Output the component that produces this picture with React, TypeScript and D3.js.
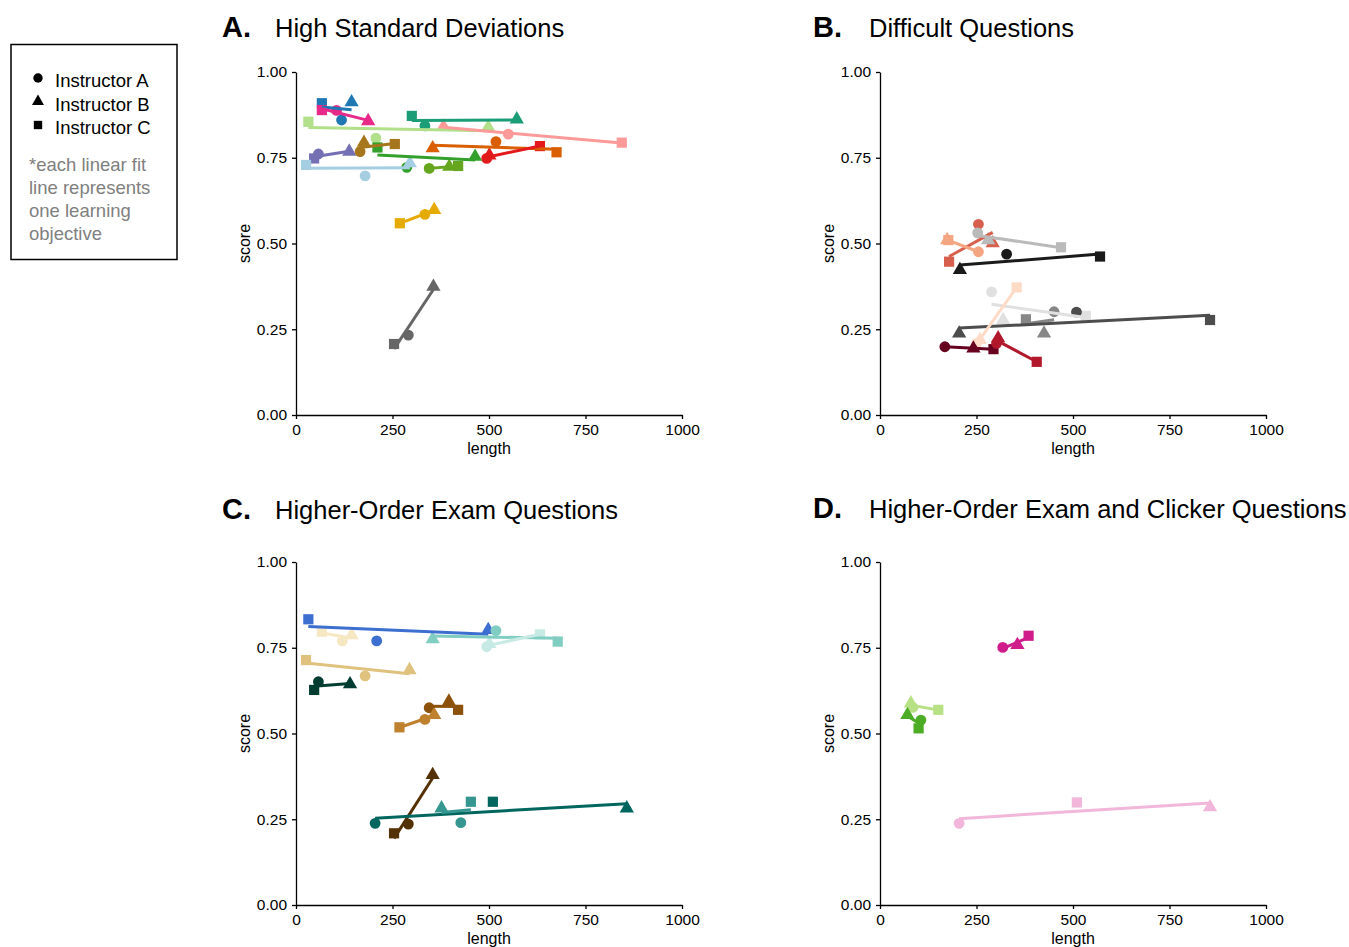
import * as d3 from "d3";
import { useEffect, useRef } from "react";

type Inst = "A" | "B" | "C";
type Pt = [Inst, number, number]; // instructor, length, score

const lengthTicks = [0, 250, 500, 750, 1000];
const scoreTicks = [0, 0.25, 0.5, 0.75, 1];
const instructors: Inst[] = ["A", "B", "C"];
const note = ["*each linear fit", "line represents", "one learning", "objective"];

// A. High Standard Deviations
const groupsA: Pt[][] = [
  [["C", 67, 0.909], ["A", 118, 0.86], ["B", 144, 0.912]],
  [["C", 67, 0.889], ["A", 105, 0.888], ["B", 187, 0.857]],
  [["C", 300, 0.872], ["A", 334, 0.843], ["B", 572, 0.862]],
  [["C", 32, 0.855], ["A", 207, 0.807], ["B", 498, 0.839]],
  [["B", 382, 0.841], ["A", 550, 0.819], ["C", 844, 0.794]],
  [["B", 354, 0.778], ["A", 518, 0.797], ["C", 675, 0.766]],
  [["A", 494, 0.748], ["B", 501, 0.757], ["C", 632, 0.784]],
  [["C", 47, 0.748], ["A", 58, 0.761], ["B", 138, 0.768]],
  [["B", 176, 0.794], ["A", 166, 0.768], ["C", 256, 0.79]],
  [["C", 211, 0.78], ["B", 464, 0.753], ["A", 287, 0.722]],
  [["C", 26, 0.729], ["A", 179, 0.697], ["B", 295, 0.734]],
  [["A", 345, 0.719], ["B", 397, 0.724], ["C", 420, 0.726]],
  [["C", 269, 0.559], ["A", 334, 0.585], ["B", 358, 0.598]],
  [["C", 254, 0.207], ["A", 291, 0.233], ["B", 356, 0.374]],
];
const coloursA = [
  "#1f78b4", "#e7298a", "#1b9e77", "#b2df8a", "#fb9a99", "#d95f02", "#e31a1c",
  "#7570b3", "#a6761d", "#33a02c", "#a6cee3", "#66a61e", "#e6ab02", "#666666",
];

// B. Difficult Questions
const groupsB: Pt[][] = [
  [["A", 255, 0.556], ["B", 292, 0.501], ["C", 179, 0.447]],
  [["B", 174, 0.51], ["A", 255, 0.476], ["C", 177, 0.51]],
  [["A", 253, 0.531], ["B", 280, 0.51], ["C", 469, 0.489]],
  [["B", 207, 0.423], ["A", 328, 0.469], ["C", 570, 0.462]],
  [["A", 289, 0.359], ["B", 319, 0.277], ["C", 533, 0.289]],
  [["C", 378, 0.279], ["A", 451, 0.301], ["B", 425, 0.238]],
  [["B", 205, 0.238], ["A", 509, 0.3], ["C", 855, 0.277]],
  [["C", 354, 0.372], ["A", 250, 0.209], ["B", 259, 0.219]],
  [["A", 168, 0.199], ["B", 242, 0.194], ["C", 294, 0.192]],
  [["B", 306, 0.224], ["A", 302, 0.209], ["C", 406, 0.155]],
];
const coloursB = [
  "#d6604d", "#f4a582", "#bababa", "#1a1a1a", "#e0e0e0",
  "#878787", "#4d4d4d", "#fddbc7", "#67001f", "#b2182b",
];

// C. Higher-Order Exam Questions
const groupsC: Pt[][] = [
  [["C", 32, 0.833], ["B", 498, 0.802], ["A", 209, 0.77]],
  [["B", 354, 0.775], ["A", 518, 0.8], ["C", 678, 0.768]],
  [["A", 494, 0.753], ["B", 501, 0.761], ["C", 632, 0.789]],
  [["C", 67, 0.797], ["A", 120, 0.77], ["B", 144, 0.787]],
  [["C", 26, 0.714], ["A", 179, 0.668], ["B", 294, 0.685]],
  [["A", 58, 0.651], ["C", 47, 0.627], ["B", 140, 0.644]],
  [["A", 345, 0.575], ["B", 396, 0.593], ["C", 420, 0.569]],
  [["C", 268, 0.518], ["A", 334, 0.541], ["B", 358, 0.554]],
  [["C", 254, 0.209], ["A", 291, 0.236], ["B", 354, 0.379]],
  [["A", 205, 0.238], ["B", 857, 0.282], ["C", 510, 0.301]],
  [["B", 377, 0.282], ["A", 427, 0.24], ["C", 453, 0.301]],
];
const coloursC = [
  "#3d6fd1", "#80cdc1", "#c7eae5", "#f6e8c3", "#dfc27d", "#003c30",
  "#8c510a", "#bf812d", "#543005", "#01665e", "#35978f",
];

// D. Higher-Order Exam and Clicker Questions
const groupsD: Pt[][] = [
  [["A", 318, 0.751], ["B", 356, 0.758], ["C", 385, 0.785]],
  [["B", 80, 0.588], ["A", 85, 0.576], ["C", 151, 0.569]],
  [["B", 71, 0.554], ["A", 106, 0.539], ["C", 100, 0.515]],
  [["A", 205, 0.238], ["C", 510, 0.299], ["B", 855, 0.285]],
];
const coloursD = ["#d01c8b", "#b8e186", "#4dac26", "#f1b6da"];

const FONT = "'Liberation Sans', Arial, Helvetica, sans-serif";

const symbolFor: Record<Inst, d3.SymbolType> = {
  A: d3.symbolCircle,
  B: d3.symbolTriangle,
  C: d3.symbolSquare,
};
const sizeFor: Record<Inst, number> = { A: 92, B: 88, C: 104 };

function fit(pts: Pt[]) {
  const mx = d3.mean(pts, (p) => p[1])!;
  const my = d3.mean(pts, (p) => p[2])!;
  const sxy = d3.sum(pts, (p) => (p[1] - mx) * (p[2] - my));
  const sxx = d3.sum(pts, (p) => (p[1] - mx) ** 2);
  const slope = sxx ? sxy / sxx : 0;
  const [x0, x1] = d3.extent(pts, (p) => p[1]) as [number, number];
  return [
    [x0, my + slope * (x0 - mx)],
    [x1, my + slope * (x1 - mx)],
  ];
}

function Panel({ ox, oy, letterX, titleX, titleY, letter, title, groups, colours }: {
  ox: number; oy: number; letterX: number; titleX: number; titleY: number;
  letter: string; title: string; groups: Pt[][]; colours: string[];
}) {
  const gx = useRef<SVGGElement>(null);
  const gy = useRef<SVGGElement>(null);
  const x = d3.scaleLinear([0, 1000], [ox, ox + 386]);
  const y = d3.scaleLinear([0, 1], [oy + 343, oy]);

  useEffect(() => {
    const ax = d3.select(gx.current!).call(
      d3.axisBottom(x).tickValues(lengthTicks).tickFormat(d3.format("d")).tickSize(4).tickPadding(5).tickSizeOuter(0)
    );
    const ay = d3.select(gy.current!).call(
      d3.axisLeft(y).tickValues(scoreTicks).tickFormat(d3.format(".2f")).tickSize(4).tickPadding(5).tickSizeOuter(0)
    );
    for (const a of [ax, ay]) {
      a.attr("font-family", FONT).attr("font-size", 15.5);
      a.selectAll("path,line").attr("stroke", "#000").attr("stroke-width", 1.3);
      a.selectAll("text").attr("fill", "#000");
    }
  }, []);

  const line = d3.line<number[]>().x((d) => x(d[0])).y((d) => y(d[1]));

  return (
    <g>
      <text x={letterX} y={titleY} fontFamily={FONT} fontWeight="bold" fontSize={29}>{letter}</text>
      <text x={titleX} y={titleY} fontFamily={FONT} fontSize={25.5}>{title}</text>
      <g ref={gx} transform={`translate(0,${oy + 343})`} />
      <g ref={gy} transform={`translate(${ox},0)`} />
      <text x={x(500)} y={oy + 382} textAnchor="middle" fontFamily={FONT} fontSize={16}>length</text>
      <text transform={`translate(${ox - 46},${y(0.5)}) rotate(-90)`} textAnchor="middle" fontFamily={FONT} fontSize={16}>score</text>
      {groups.map((g, i) =>
        g.map((p, j) => (
          <path
            key={`p${i}-${j}`}
            d={d3.symbol(symbolFor[p[0]], sizeFor[p[0]])()!}
            transform={`translate(${x(p[1])},${y(p[2])})`}
            fill={colours[i]}
          />
        ))
      )}
      {groups.map((g, i) => (
        <path key={`l${i}`} d={line(fit(g))!} fill="none" stroke={colours[i]} strokeWidth={3} />
      ))}
    </g>
  );
}

function Legend() {
  return (
    <g fontFamily={FONT}>
      <rect x={11} y={44.5} width={166} height={215} fill="none" stroke="#000" strokeWidth={1.5} />
      {instructors.map((k, i) => (
        <g key={k}>
          <path d={d3.symbol(symbolFor[k], k === "B" ? 62 : 70)()!} transform={`translate(38,${78 + i * 23.5})`} fill="#000" />
          <text x={55} y={87 + i * 23.5} fontSize={18.5}>{`Instructor ${k}`}</text>
        </g>
      ))}
      {note.map((t, i) => (
        <text key={i} x={29} y={171 + i * 23} fontSize={18.5} fill="#808080">{t}</text>
      ))}
    </g>
  );
}

export default function App() {
  return (
    <svg width={1349} height={947} style={{ position: "absolute", left: 0, top: 0, display: "block" }}>
      <rect width={1349} height={947} fill="#fff" />
      <Legend />
      <Panel ox={296} oy={72} letterX={222} titleX={275} titleY={37} letter="A." title="High Standard Deviations" groups={groupsA} colours={coloursA} />
      <Panel ox={880} oy={72} letterX={813} titleX={869} titleY={37} letter="B." title="Difficult Questions" groups={groupsB} colours={coloursB} />
      <Panel ox={296} oy={562} letterX={222} titleX={275} titleY={519} letter="C." title="Higher-Order Exam Questions" groups={groupsC} colours={coloursC} />
      <Panel ox={880} oy={562} letterX={813} titleX={869} titleY={518} letter="D." title="Higher-Order Exam and Clicker Questions" groups={groupsD} colours={coloursD} />
    </svg>
  );
}
